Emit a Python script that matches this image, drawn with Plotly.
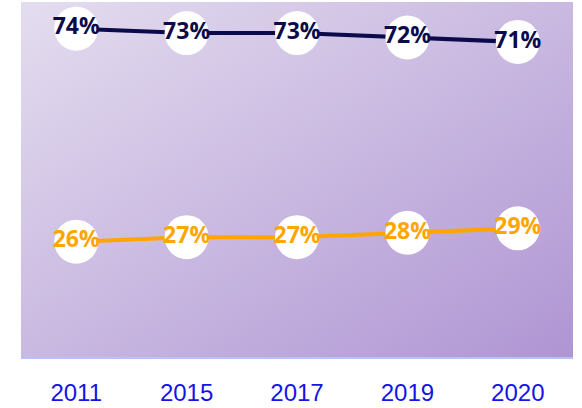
import base64
import plotly.graph_objects as go

years = ["2011", "2015", "2017", "2019", "2020"]
series_a = [74, 73, 73, 72, 71]
series_b = [26, 27, 27, 28, 29]
name_a = "Series A"
name_b = "Series B"

navy = "#0b0b4b"
orange = "#ffa500"

svg = (
    '<svg xmlns="http://www.w3.org/2000/svg" width="100" height="100" preserveAspectRatio="none" viewBox="0 0 100 100">'
    '<defs><linearGradient id="g" x1="0" y1="0" x2="1" y2="1">'
    '<stop offset="0" stop-color="#e4ddef"/><stop offset="1" stop-color="#af95d3"/>'
    '</linearGradient></defs><rect width="100" height="100" fill="url(#g)"/></svg>'
)
src = "data:image/svg+xml;base64," + base64.b64encode(svg.encode()).decode()

fig = go.Figure()
for name, vals, col in [(name_a, series_a, navy), (name_b, series_b, orange)]:
    fig.add_trace(go.Scatter(
        x=years, y=vals, name=name,
        mode="lines+markers+text",
        line=dict(color=col, width=4),
        marker=dict(size=44, color="white", line=dict(width=0)),
        text=[f"{v}%" for v in vals],
        textposition="middle center",
        textfont=dict(family="Open Sans", size=23, color=col, weight=700),
        cliponaxis=False,
        hoverinfo="skip",
    ))

fig.update_layout(
    width=582, height=408,
    margin=dict(l=21, r=9, t=2, b=46),
    paper_bgcolor="white",
    plot_bgcolor="rgba(0,0,0,0)",
    showlegend=False,
    images=[dict(source=src, xref="paper", yref="paper", x=0, y=1,
                 sizex=1, sizey=1, sizing="stretch", layer="below",
                 xanchor="left", yanchor="top")],
    xaxis=dict(type="category", range=[-0.5, 4.5], showgrid=False,
               showline=True, linecolor="#b9c1f9", linewidth=2,
               ticks="", tickfont=dict(family="Liberation Sans", size=24, color="#1414e6"),
               ticklabelstandoff=13, zeroline=False),
    yaxis=dict(range=[0, 80], visible=False, showgrid=False, zeroline=False),
)

fig.write_html("out.html", config={"displayModeBar": False},
               post_script="document.body.style.margin='0';document.body.style.overflow='hidden';")
